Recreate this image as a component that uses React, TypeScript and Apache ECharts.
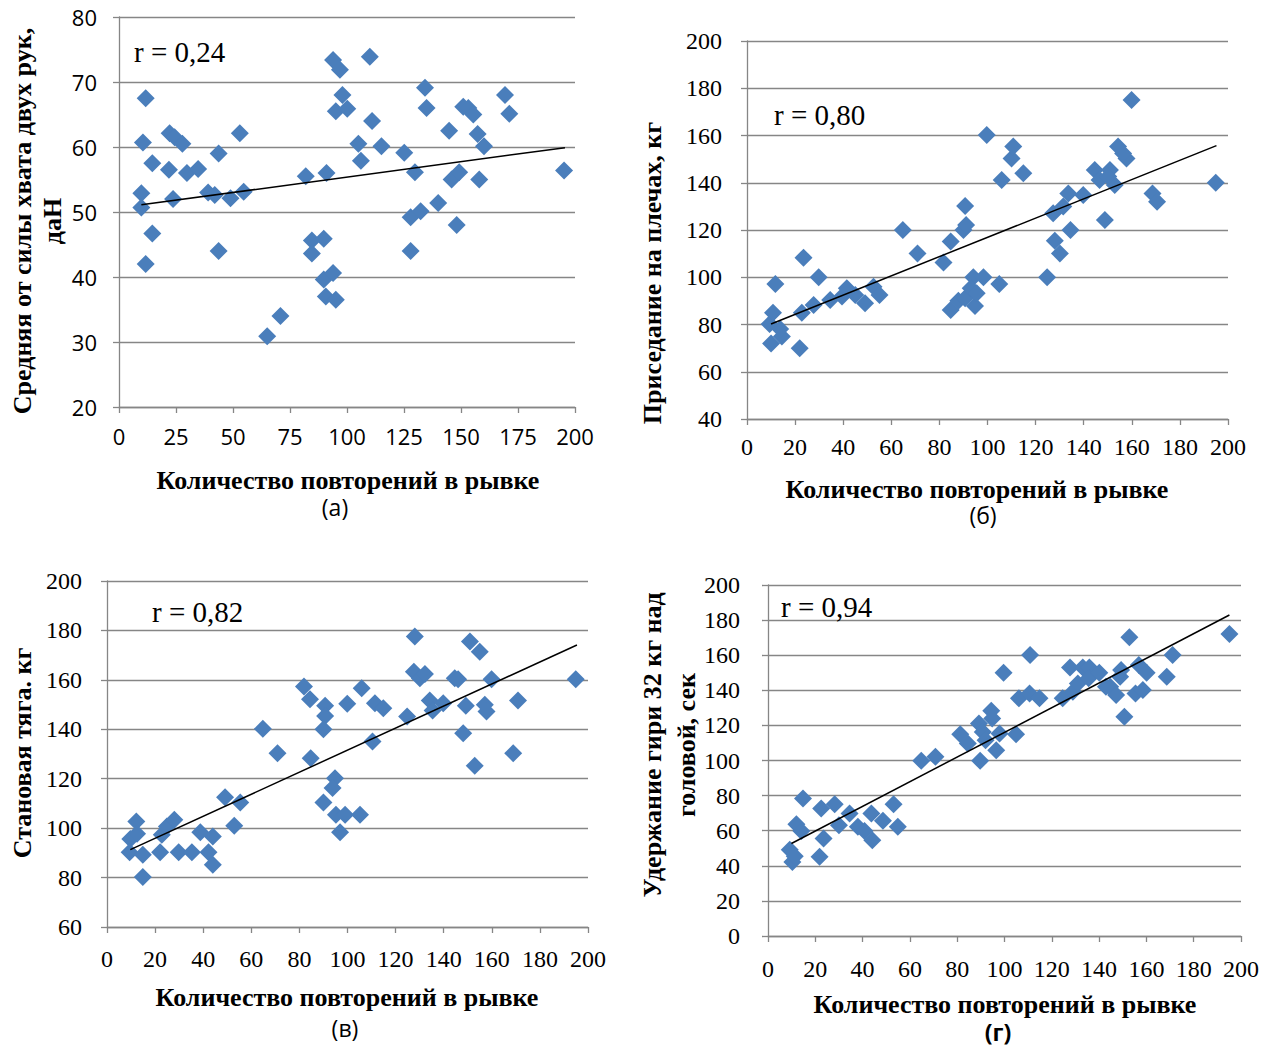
import React, { useEffect, useRef } from 'react';
import * as echarts from 'echarts';

// Panel (а): grip strength vs snatch reps
const pointsA: number[][] = [
  [11.7, 67.5], [10.5, 60.7], [9.8, 52.9], [9.8, 50.7], [14.6, 57.5], [14.6, 46.7], [11.7, 42.0],
  [22.2, 62.1], [24.4, 61.5], [21.9, 56.5], [23.7, 52.0], [27.8, 60.5], [29.8, 56.0], [34.7, 56.6],
  [39.1, 53.0], [42.0, 52.6], [43.7, 59.0], [43.7, 44.0], [48.9, 52.1], [54.7, 53.1], [53.0, 62.1],
  [65.0, 30.9], [70.8, 34.0], [81.9, 55.5], [91.0, 56.0], [84.6, 45.6], [89.8, 45.9], [84.6, 43.6],
  [89.8, 39.6], [93.9, 40.6], [90.7, 37.0], [95.1, 36.5], [93.9, 73.4], [96.9, 71.9], [98.0, 68.0],
  [95.1, 65.5], [100.1, 65.9], [110.0, 73.9], [111.0, 64.0], [105.0, 60.5], [106.1, 57.9], [115.1, 60.1],
  [125.1, 59.1], [129.8, 56.1], [127.9, 49.2], [132.3, 50.1], [127.9, 44.0], [134.2, 69.1], [134.9, 66.0],
  [140.0, 51.4], [144.8, 62.5], [145.9, 55.0], [149.2, 56.1], [148.1, 48.0], [151.0, 66.2], [153.2, 66.0],
  [155.4, 65.0], [157.3, 62.0], [160.1, 60.1], [158.0, 55.0], [169.3, 68.0], [171.2, 65.1], [195.2, 56.4],
];
const trendA: number[][] = [[9.8, 51.1], [195.6, 59.9]];

// Panel (б): squat
const pointsB: number[][] = [
  [10.0, 72.0], [9.4, 80.2], [10.8, 85.0], [11.8, 97.1], [14.5, 74.9], [13.8, 78.1], [21.9, 69.9],
  [23.5, 108.3], [22.8, 85.0], [27.7, 88.3], [29.8, 100.0], [34.6, 90.4], [39.5, 91.8], [41.5, 95.3],
  [45.0, 92.5], [49.1, 89.0], [52.6, 96.0], [55.1, 92.5], [64.8, 120.0], [70.9, 110.1], [81.7, 106.2],
  [84.7, 86.1], [84.7, 115.1], [87.9, 90.1], [90.0, 120.0], [90.7, 130.2], [91.1, 122.1], [90.7, 91.1],
  [94.1, 100.0], [93.0, 95.3], [94.8, 87.8], [95.5, 93.2], [98.3, 100.0], [99.7, 160.2], [104.9, 97.1],
  [105.9, 141.2], [110.0, 150.3], [110.7, 155.3], [114.9, 144.0], [124.8, 100.0], [128.0, 115.5],
  [130.1, 110.1], [127.3, 127.1], [131.5, 129.9], [133.6, 135.5], [134.5, 120.0], [139.8, 134.8],
  [144.6, 145.4], [146.6, 141.2], [148.8, 124.2], [150.9, 145.4], [152.9, 139.0], [154.3, 155.3],
  [157.8, 150.3], [159.9, 175.0], [168.6, 135.5], [170.5, 132.0], [194.9, 140.0], [150.2, 142.6],
  [156.4, 152.4],
];
const trendB: number[][] = [[10.0, 80.2], [195.2, 155.7]];

// Panel (в): deadlift
const pointsC: number[][] = [
  [12.2, 102.7], [9.7, 95.6], [12.5, 97.7], [9.4, 90.2], [14.9, 89.2], [14.9, 80.2], [22.1, 90.2],
  [22.8, 97.3], [24.9, 100.7], [28.0, 103.4], [29.8, 90.2], [35.3, 90.2], [38.8, 98.3], [42.2, 90.2],
  [44.0, 96.6], [44.0, 85.2], [49.1, 112.5], [55.4, 110.4], [52.9, 101.0], [64.8, 140.2], [70.9, 130.3],
  [81.9, 157.3], [84.4, 152.2], [84.7, 128.3], [90.7, 149.5], [90.7, 145.4], [90.0, 140.0], [90.0, 110.4],
  [94.8, 120.2], [93.8, 116.2], [95.2, 105.4], [99.0, 105.4], [96.9, 98.3], [105.2, 105.4], [99.9, 150.3],
  [105.9, 156.6], [110.4, 135.1], [111.4, 150.5], [114.9, 148.5], [124.8, 145.2], [128.0, 177.5],
  [127.6, 163.3], [130.1, 160.7], [132.2, 162.4], [134.2, 151.6], [135.4, 147.6], [139.8, 150.5],
  [144.6, 160.7], [146.0, 160.2], [148.1, 138.4], [149.2, 149.5], [150.9, 175.5], [152.9, 125.2],
  [155.0, 171.4], [157.1, 149.9], [157.8, 147.2], [159.9, 160.2], [168.9, 130.3], [170.9, 151.6],
  [194.9, 160.2],
];
const trendC: number[][] = [[9.7, 91.3], [195.4, 174.1]];

// Panel (г): kettlebell hold
const pointsD: number[][] = [
  [10.3, 42.2], [9.2, 49.2], [11.3, 45.4], [12.0, 63.7], [14.1, 59.9], [14.8, 78.3], [21.8, 45.1],
  [23.5, 55.5], [22.5, 72.6], [28.2, 75.1], [30.0, 63.1], [34.5, 69.8], [38.0, 62.2], [40.8, 59.9],
  [43.7, 69.8], [44.1, 54.6], [48.6, 65.6], [53.1, 75.1], [54.9, 62.2], [64.8, 99.8], [70.8, 102.1],
  [81.3, 115.0], [84.5, 109.7], [89.7, 99.8], [89.2, 121.1], [90.8, 116.3], [92.0, 111.6], [94.4, 128.3],
  [94.8, 123.9], [96.5, 105.9], [97.9, 115.4], [104.9, 115.0], [99.6, 150.0], [106.1, 135.4],
  [110.6, 138.2], [110.8, 160.1], [114.8, 135.4], [124.6, 135.4], [127.7, 153.0], [128.9, 139.2],
  [131.0, 143.9], [133.1, 153.0], [135.9, 153.0], [135.6, 146.8], [140.1, 150.0], [144.7, 142.0],
  [147.2, 137.3], [148.9, 147.7], [150.7, 124.9], [152.8, 170.2], [155.4, 138.2], [156.8, 154.4],
  [158.5, 140.1], [160.1, 150.0], [168.6, 147.7], [171.1, 160.1], [195.1, 172.1], [142.9, 142.0],
  [149.3, 151.5],
];
const trendD: number[][] = [[9.9, 52.7], [195.1, 182.9]];

const rLabels = ['r = 0,24', 'r = 0,80', 'r = 0,82', 'r = 0,94'];
const xTitle = 'Количество повторений в рывке';
const captions = ['(а)', '(б)', '(в)', '(г)'];
const yRanges = [
  { min: 20, max: 80, interval: 10 },
  { min: 40, max: 200, interval: 20 },
  { min: 60, max: 200, interval: 20 },
  { min: 0, max: 200, interval: 20 },
];
const xIntervals = [25, 20, 20, 20];

const SERIF = '"Liberation Serif", "Times New Roman", serif';
const SANS = '"Open Sans", "Noto Sans", sans-serif';
const AXIS_COLOR = '#868686';
const MARKER = '#4A7EBB';

const grids = [
  { left: 119, top: 17, width: 456, height: 390 },
  { left: 747, top: 41, width: 481, height: 378 },
  { left: 107, top: 581, width: 481, height: 346 },
  { left: 768, top: 585, width: 473, height: 351 },
];
const xLabelMargin = [18, 16, 20, 21];
const yLabelMargin = [22, 25, 25, 28];
const tickFonts = [
  { fontFamily: SANS, fontSize: 22 },
  { fontFamily: SERIF, fontSize: 24 },
  { fontFamily: SERIF, fontSize: 24 },
  { fontFamily: SERIF, fontSize: 24 },
];

export default function App() {
  const ref = useRef<HTMLDivElement>(null);
  useEffect(() => {
    if (!ref.current) return;
    const chart = echarts.init(ref.current, null, { renderer: 'svg' });
    const pts = [pointsA, pointsB, pointsC, pointsD];
    const trends = [trendA, trendB, trendC, trendD];

    const xAxis = grids.map((_, i) => ({
      type: 'value',
      gridIndex: i,
      min: 0,
      max: 200,
      interval: xIntervals[i],
      axisLine: { show: true, lineStyle: { color: AXIS_COLOR, width: 1.3 } },
      axisTick: { show: true, length: 6, lineStyle: { color: AXIS_COLOR, width: 1.3 } },
      splitLine: { show: false },
      axisLabel: { color: '#000', margin: xLabelMargin[i], ...tickFonts[i] },
    }));
    const yAxis = grids.map((_, i) => ({
      type: 'value',
      gridIndex: i,
      ...yRanges[i],
      axisLine: { show: true, lineStyle: { color: AXIS_COLOR, width: 1.3 } },
      axisTick: { show: true, length: 6, lineStyle: { color: AXIS_COLOR, width: 1.3 } },
      splitLine: { show: true, lineStyle: { color: AXIS_COLOR, width: 1.3 } },
      axisLabel: { color: '#000', margin: yLabelMargin[i], ...tickFonts[i] },
    }));
    const series: any[] = [];
    pts.forEach((p, i) => {
      series.push({
        type: 'scatter',
        xAxisIndex: i,
        yAxisIndex: i,
        data: p,
        symbol: 'diamond',
        symbolSize: 18,
        itemStyle: { color: MARKER, opacity: 1 },
        z: 2,
      });
      series.push({
        type: 'line',
        xAxisIndex: i,
        yAxisIndex: i,
        data: trends[i],
        showSymbol: false,
        symbol: 'none',
        lineStyle: { color: '#000', width: 1.5 },
        z: 3,
      });
    });

    const rPos = [
      { x: 134, y: 52 },
      { x: 774, y: 115 },
      { x: 152, y: 612 },
      { x: 781, y: 607 },
    ];
    const xTitlePos = [
      { x: 348, y: 480 },
      { x: 977, y: 489 },
      { x: 347, y: 997 },
      { x: 1005, y: 1004 },
    ];
    const capPos = [
      { x: 335, y: 507 },
      { x: 983, y: 515 },
      { x: 345, y: 1028 },
      { x: 998, y: 1032 },
    ];
    const yTitles = [
      { text: 'Средняя от силы хвата двух рук,', x: 22, y: 221 },
      { text: 'даН', x: 52, y: 221 },
      { text: 'Приседание на плечах, кг', x: 652, y: 273 },
      { text: 'Становая тяга. кг', x: 22, y: 753 },
      { text: 'Удержание гири 32 кг над', x: 652, y: 745 },
      { text: 'головой, сек', x: 686, y: 745 },
    ];

    const graphic: any[] = [];
    rLabels.forEach((t, i) =>
      graphic.push({
        type: 'text',
        x: rPos[i].x,
        y: rPos[i].y,
        z: 10,
        style: { text: t, fontFamily: SERIF, fontSize: 29, fill: '#000', align: 'left', verticalAlign: 'middle' },
      })
    );
    xTitlePos.forEach((p) =>
      graphic.push({
        type: 'text',
        x: p.x,
        y: p.y,
        style: { text: xTitle, fontFamily: SERIF, fontSize: 26, lineHeight: 24, fontWeight: 'bold', fill: '#000', align: 'center', verticalAlign: 'middle' },
      })
    );
    captions.forEach((c, i) =>
      graphic.push({
        type: 'text',
        x: capPos[i].x,
        y: capPos[i].y,
        style: { text: c, fontFamily: SANS, fontSize: 23, lineHeight: 22, fontWeight: i === 3 ? 'bold' : 'normal', fill: '#000', align: 'center', verticalAlign: 'middle' },
      })
    );
    yTitles.forEach((t) =>
      graphic.push({
        type: 'text',
        x: t.x,
        y: t.y,
        rotation: Math.PI / 2,
        style: { text: t.text, fontFamily: SERIF, fontSize: 26, fontWeight: 'bold', fill: '#000', align: 'center', verticalAlign: 'middle' },
      })
    );

    chart.setOption({
      animation: false,
      backgroundColor: '#fff',
      grid: grids.map((g) => ({ ...g, containLabel: false })),
      xAxis,
      yAxis,
      series,
      graphic,
    });
    return () => chart.dispose();
  }, []);

  return (
    <div
      ref={ref}
      style={{ position: 'fixed', left: 0, top: 0, width: 1278, height: 1048, background: '#fff' }}
    />
  );
}
